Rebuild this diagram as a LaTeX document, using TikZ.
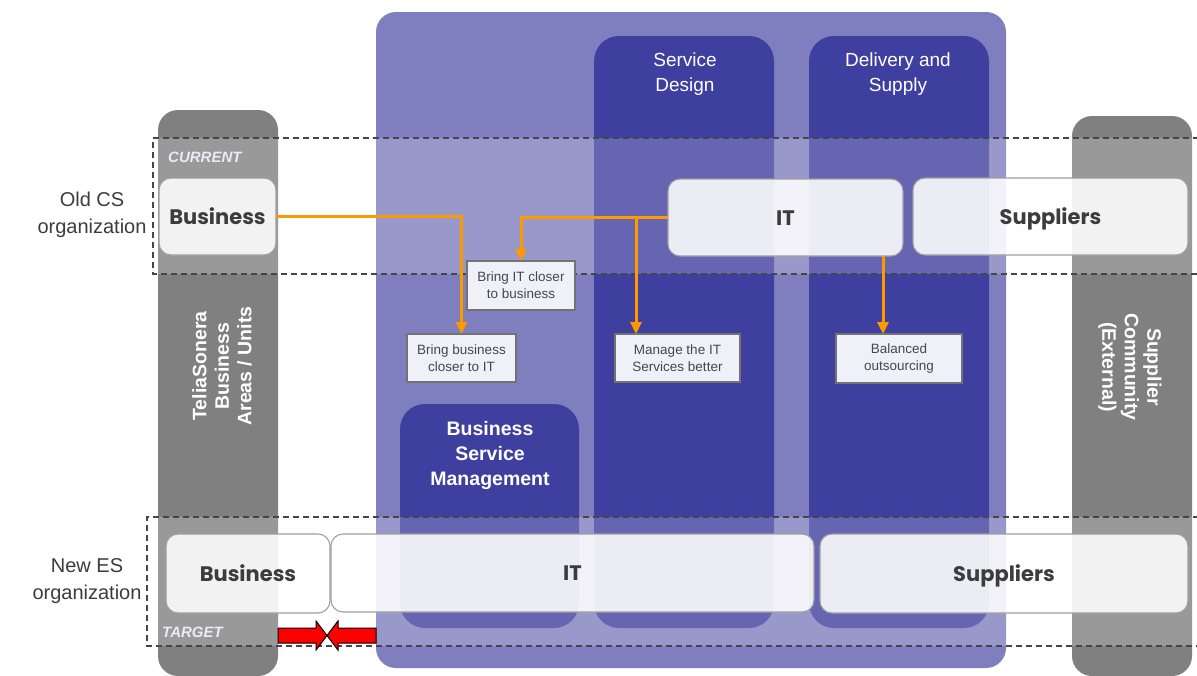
\documentclass[tikz,border=0pt]{standalone}
\usepackage{fontspec}
\setmainfont{Liberation Sans}
\newfontfamily\popfont{Poppins}
\usetikzlibrary{arrows.meta}
\definecolor{grayc}{RGB}{128,128,128}
\definecolor{panelc}{RGB}{127,127,191}
\definecolor{darkc}{RGB}{63,63,159}
\definecolor{orangec}{RGB}{255,153,0}
\definecolor{boxfill}{RGB}{240,240,248}
\definecolor{txtc}{RGB}{60,60,60}
\definecolor{lbltxt}{RGB}{70,70,80}
\definecolor{dashc}{RGB}{70,70,70}
\definecolor{pale}{RGB}{235,235,245}
\tikzset{
  bigbox/.style={draw=gray!75, line width=1.1pt, fill=white, fill opacity=0.88, text opacity=1,
    rounded corners=12pt, inner sep=0pt, outer sep=0pt, anchor=north west,
    text height=15pt, text depth=0pt,
    font=\popfont\bfseries\fontsize{21}{24}\selectfont, text=txtc},
  lblbox/.style={draw=gray!90!black, line width=1.1pt, fill=boxfill, inner sep=0pt, outer sep=0pt,
    anchor=north west, align=center, font=\fontsize{13.5}{17}\selectfont, text=lbltxt},
  orarrow/.style={draw=orangec, line width=3pt, -{Triangle[length=12pt,width=11pt]}},
  coltitle/.style={text=white, align=center, font=\fontsize{19}{25}\selectfont},
  sidetitle/.style={text=white, align=center, font=\bfseries\fontsize{19.5}{22.5}\selectfont},
  orgtitle/.style={text=txtc, align=center, font=\fontsize{20}{27}\selectfont},
  phase/.style={text=pale, anchor=west, inner sep=0pt, font=\bfseries\itshape\fontsize{15}{17}\selectfont},
  band/.style={draw=dashc, line width=1.2pt, dash pattern=on 6pt off 4pt},
  redarrow/.style={fill=red, draw=black, line width=1pt}
}
\begin{document}
\begin{tikzpicture}[x=1pt,y=-1pt]
\useasboundingbox (0,0) rectangle (1197,675);
% gray side columns
\fill[grayc, rounded corners=20pt] (158,110) rectangle (278,676);
\fill[grayc, rounded corners=20pt] (1072,116) rectangle (1192,676);
% purple panel
\fill[panelc, rounded corners=20pt] (376,12) rectangle (1006,668);
% dark columns
\fill[darkc, rounded corners=25pt] (594,36) rectangle (774,628);
\fill[darkc, rounded corners=25pt] (809,36) rectangle (989,628);
\fill[darkc, rounded corners=25pt] (400,404) rectangle (579,628);
% column titles
\node[coltitle] (sdt) at (685,74) {Service\\Design};
\node[coltitle] (dst) at (898,74) {Delivery and\\Supply};
\node[coltitle, font=\bfseries\fontsize{19.5}{25}\selectfont] (bsmt) at (490,455) {Business\\Service\\Management};
\node[sidetitle, rotate=90] (tst) at (222,366) {TeliaSonera\\Business\\Areas / Units};
\node[sidetitle, rotate=-90] (sct) at (1130,367) {Supplier\\Community\\(External)};
% band overlays
\fill[white, opacity=0.2] (153,138) rectangle (1197,274);
\fill[white, opacity=0.2] (147,517) rectangle (1197,646);
\draw[band] (1199,138) -- (153,138) -- (153,274) -- (1199,274);
\draw[band] (1199,517) -- (147,517) -- (147,646) -- (1199,646);
% org labels
\node[orgtitle] (old) at (92,215) {Old CS\\organization};
\node[orgtitle] (new) at (87,581) {New ES\\organization};
\node[phase] (cur) at (168,157) {CURRENT};
\node[phase] (tgt) at (162,632) {TARGET};
% current boxes
\node[bigbox, minimum width=117pt, minimum height=77pt] (bus1) at (159,178) {Business};
\node[bigbox, minimum width=235pt, minimum height=77pt] (it1) at (668,179) {IT};
\node[bigbox, minimum width=275pt, minimum height=77pt] (sup1) at (913,178) {Suppliers};
% target boxes
\node[bigbox, minimum width=164pt, minimum height=79pt] (bus2) at (166,534) {Business};
\node[bigbox, minimum width=483pt, minimum height=78pt] (it2) at (331,534) {IT};
\node[bigbox, minimum width=368pt, minimum height=79pt] (sup2) at (820,534) {Suppliers};
% label boxes
\node[lblbox, minimum width=108pt, minimum height=49pt] (bic) at (467,261) {Bring IT closer\\to business};
\node[lblbox, minimum width=109pt, minimum height=48pt] (bbc) at (407,334) {Bring business\\closer to IT};
\node[lblbox, minimum width=125pt, minimum height=48pt] (mit) at (615,334) {Manage the IT\\Services better};
\node[lblbox, minimum width=126pt, minimum height=49pt] (bal) at (836,334) {Balanced\\outsourcing};
% orange arrows
\coordinate (brA) at (636,217.5);
\coordinate (brB) at (883,256);
\draw[orarrow] (bus1.east) -| (bbc.north);
\draw[orarrow] (it1.west) -| (bic.north);
\draw[orarrow] (brA) -- (brA |- mit.north);
\draw[orarrow] (brB) -- (brB |- bal.north);
% red double arrow
\draw[redarrow] (278,628) -- (316,628) -- (316,621) -- (327,635.5) -- (316,650) -- (316,643) -- (278,643) -- cycle;
\draw[redarrow] (376,628) -- (338,628) -- (338,621) -- (327,635.5) -- (338,650) -- (338,643) -- (376,643) -- cycle;
\end{tikzpicture}
\end{document}
